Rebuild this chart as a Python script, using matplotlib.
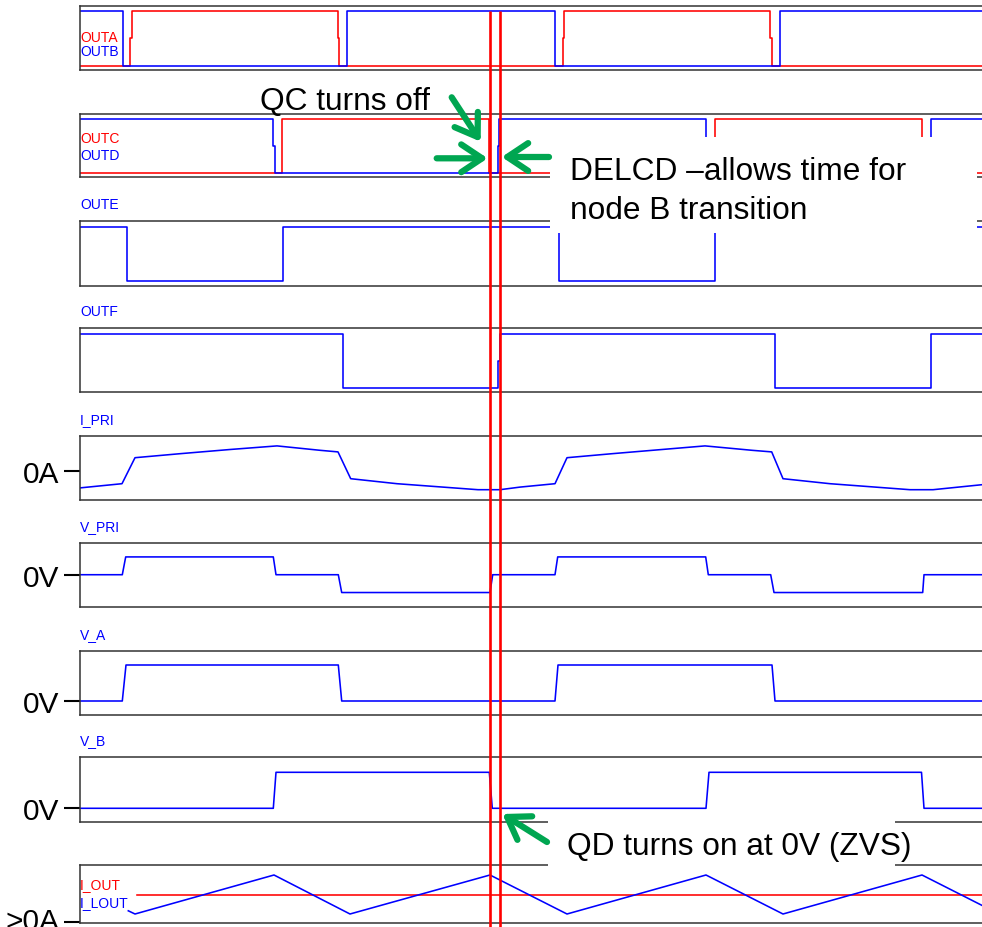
import matplotlib.pyplot as plt
from matplotlib.patches import Rectangle
from matplotlib.transforms import ScaledTranslation

plt.rcParams['font.family'] = ['Liberation Sans', 'DejaVu Sans']

# Time base (simulation units) and the two cursor positions
T_END = 910
CURSOR_T = [410.5, 420.0]

# Gate drive outputs, 0 = low, 1 = high (0.5 = short intermediate step)
outa_t = [0, 50, 50, 52, 52, 258.3, 258.3, 259.3, 259.3, 482.7, 482.7, 484.3, 484.3, 690, 690, 691.7, 691.7, 910]
outa_v = [0, 0, 0.5, 0.5, 1, 1, 0.5, 0.5, 0, 0, 0.5, 0.5, 1, 1, 0.5, 0.5, 0, 0]
outb_t = [0, 42.7, 42.7, 267.3, 267.3, 474.7, 474.7, 699.7, 699.7, 910]
outb_v = [1, 1, 0, 0, 1, 1, 0, 0, 1, 1]

outc_t = [0, 202.3, 202.3, 409.5, 409.5, 635, 635, 841.7, 841.7, 910]
outc_v = [0, 0, 1, 1, 0, 0, 1, 1, 0, 0]
outd_t = [0, 193.3, 193.3, 195, 195, 417.7, 417.7, 419.5, 419.5, 625.7, 625.7, 850.7, 850.7, 910]
outd_v = [1, 1, 0.5, 0.5, 0, 0, 0.5, 0.5, 1, 1, 0, 0, 1, 1]

oute_t = [0, 47.3, 47.3, 202.7, 202.7, 479, 479, 635, 635, 910]
oute_v = [1, 1, 0, 0, 1, 1, 0, 0, 1, 1]

outf_t = [0, 262.7, 262.7, 417.7, 417.7, 420, 420, 695, 695, 851, 851, 910]
outf_v = [1, 1, 0, 0, 0.5, 0.5, 1, 1, 0, 0, 1, 1]

# Primary current [A]
ipri_t = [0, 42, 55, 100, 150, 197, 240, 258, 270.7, 317, 398, 420, 440, 475,
          487, 532, 582, 625, 672, 691.7, 703, 750, 830, 853, 902]
ipri_v = [-4.3, -3.25, 3.25, 4.25, 5.3, 6.2, 5.1, 4.7, -2.0, -3.25, -4.75, -4.75, -4.1, -3.25,
          3.25, 4.25, 5.3, 6.2, 5.1, 4.7, -2.0, -3.25, -4.75, -4.75, -3.5]

# Primary voltage and switch node voltages [V]
vpri_t = [0, 42.3, 45.7, 193.3, 196, 258.3, 261.7, 410, 412.7, 475, 477.7, 625.7, 628.3, 690.7, 694, 842.7, 844, 910]
vpri_v = [0, 0, 400, 400, 0, 0, -400, -400, 0, 0, 400, 400, 0, 0, -400, -400, 0, 0]

va_t = [0, 42.3, 46, 258.3, 261.7, 475, 478, 692, 695, 910]
va_v = [0, 0, 400, 400, 0, 0, 400, 400, 0, 0]

vb_t = [0, 193.3, 196, 409.3, 412.3, 626, 629, 841.5, 844, 910]
vb_v = [0, 0, 400, 400, 0, 0, 400, 400, 0, 0]

# Output current and output inductor current [A]
iout_t = [56.7, 910]
iout_v = [10, 10]
ilout_t = [48.3, 55, 194, 270, 410, 487, 626, 703, 842, 902]
ilout_v = [6.05, 5.25, 15, 5.25, 15, 5.25, 15, 5.25, 15, 7.4]

W, H = 982, 928
X0 = 80          # left edge of the panels in px
DIG_YLIM = (-0.08, 1.1)
GREEN = '#00a651'
LW = 1.15

fig = plt.figure(figsize=(W / 100, H / 100), dpi=100)


def panel(top, bottom, ylim):
    ax = fig.add_axes([X0 / W, 1 - bottom / H, T_END / W, (bottom - top) / H])
    ax.set_xlim(0, T_END)
    ax.set_ylim(*ylim)
    ax.set_xticks([])
    ax.set_yticks([])
    for s in ('left', 'top', 'bottom'):
        ax.spines[s].set_color('#333333')
        ax.spines[s].set_linewidth(1.1)
    ax.spines['right'].set_visible(False)
    ax.patch.set_alpha(0)
    return ax


def label(ax, text, color, dy):
    # dy: px from the panel top down to the text centre
    ax.annotate(text, xy=(0, 1), xycoords='axes fraction', xytext=(0, -dy * 0.72),
                textcoords='offset points', ha='left', va='center', color=color,
                fontsize=10, annotation_clip=False)


def zero_tick(ax, value, text, shift=0):
    ax.set_yticks([value], [text])
    ax.tick_params(axis='y', direction='out', length=11.5, width=1.5, pad=3.2,
                   labelsize=21.5, color='black')
    if shift:
        for t in ax.get_yticklabels():
            t.set_transform(t.get_transform() + ScaledTranslation(0, shift / 100, fig.dpi_scale_trans))


ax1 = panel(6.7, 71, DIG_YLIM)
ax1.plot(outa_t, outa_v, color='red', lw=LW)
ax1.plot(outb_t, outb_v, color='blue', lw=LW)
label(ax1, 'OUTA', 'red', 31.3)
label(ax1, 'OUTB', 'blue', 45.3)

ax2 = panel(115, 178.3, DIG_YLIM)
ax2.plot(outc_t, outc_v, color='red', lw=LW)
ax2.plot(outd_t, outd_v, color='blue', lw=LW)
label(ax2, 'OUTC', 'red', 24)
label(ax2, 'OUTD', 'blue', 40.5)

ax3 = panel(222.3, 286.7, DIG_YLIM)
ax3.plot(oute_t, oute_v, color='blue', lw=LW)
label(ax3, 'OUTE', 'blue', -17)

ax4 = panel(329.3, 393.3, DIG_YLIM)
ax4.plot(outf_t, outf_v, color='blue', lw=LW)
label(ax4, 'OUTF', 'blue', -17)

ax5 = panel(436.7, 500.7, (-7.25, 8.75))
ax5.plot(ipri_t, ipri_v, color='blue', lw=LW)
label(ax5, 'I_PRI', 'blue', -17)
zero_tick(ax5, 0, '0A')

ax6 = panel(544.3, 608.3, (-732, 706))
ax6.plot(vpri_t, vpri_v, color='blue', lw=LW)
label(ax6, 'V_PRI', 'blue', -17)
zero_tick(ax6, 0, '0V')

ax7 = panel(651.7, 716, (-155.6, 558.9))
ax7.plot(va_t, va_v, color='blue', lw=LW)
label(ax7, 'V_A', 'blue', -17)
zero_tick(ax7, 0, '0V')

ax8 = panel(758.3, 822.7, (-148.9, 566.7))
ax8.plot(vb_t, vb_v, color='blue', lw=LW)
label(ax8, 'V_B', 'blue', -17)
zero_tick(ax8, 0, '0V')

ax9 = panel(866, 924.3, (2.925, 17.5))
ax9.plot(iout_t, iout_v, color='red', lw=LW)
ax9.plot(ilout_t, ilout_v, color='blue', lw=LW)
label(ax9, 'I_OUT', 'red', 19.5)
label(ax9, 'I_LOUT', 'blue', 37)
zero_tick(ax9, 3.25, '>0A', shift=4)

# Overlay in (time, pixel row) for cursors and callouts
ov = fig.add_axes([0, 0, 1, 1], zorder=10)
ov.set_xlim(-X0, W - X0)
ov.set_ylim(H, 0)
ov.axis('off')

ov.vlines(CURSOR_T, 12, H, colors='red', lw=1.9)

ov.add_patch(Rectangle((470, 138), 427, 96, facecolor='white', edgecolor='none'))
ov.add_patch(Rectangle((468, 815), 347, 55, facecolor='white', edgecolor='none'))

ov.text(180, 110, 'QC turns off', fontsize=22.8, va='baseline')
ov.text(490.5, 219, 'DELCD \u2013allows time for\nnode B transition', fontsize=22.8,
        va='baseline', linespacing=1.41)
ov.text(487, 855, 'QD turns on at 0V (ZVS)', fontsize=22.8, va='baseline')


def arrow(tail, tip):
    ov.annotate('', xy=tip, xytext=tail,
                arrowprops=dict(arrowstyle='->,head_length=0.75,head_width=0.5', color=GREEN,
                                lw=4.5, shrinkA=0, shrinkB=0, mutation_scale=20))


arrow((371.7, 98.3), (400.7, 142.7))
arrow((356.7, 159.3), (407.7, 159.3))
arrow((469, 158), (421.7, 158))
arrow((467, 843), (422.4, 815))

fig.savefig('out.png', dpi=100, facecolor='white')
